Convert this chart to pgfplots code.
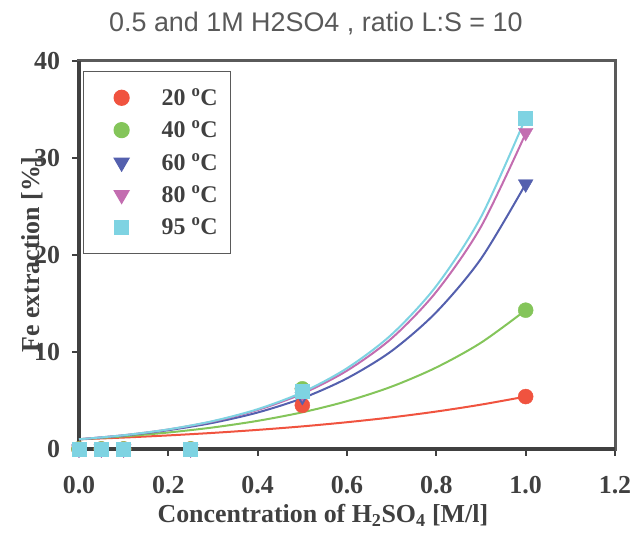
\documentclass[border=0pt]{standalone}
\usepackage{fontspec}
\setmainfont{Liberation Serif}
\setsansfont{Liberation Sans}
\usepackage{pgfplots}
\pgfplotsset{compat=1.18}
\definecolor{cA}{HTML}{F0533F}
\definecolor{cB}{HTML}{84C55A}
\definecolor{cC}{HTML}{5460AE}
\definecolor{cD}{HTML}{C36DB0}
\definecolor{cE}{HTML}{7ED3E2}
\definecolor{txtgray}{HTML}{404040}
\definecolor{titlegray}{HTML}{595959}
\definecolor{framegray}{HTML}{5A5A5A}
\pgfplotsset{
  myleg/.style={legend image code/.code={\path[draw=none,fill=none] (0bp,-8bp) rectangle (65bp,8bp); \draw[##1] plot coordinates {(27bp,0bp)};}},
}
\begin{document}
\begin{tikzpicture}
\begin{axis}[name=ax,
  scale only axis, width=536bp, height=388.3bp,
  xmin=0, xmax=1.2, ymin=0, ymax=40,
  xtick={0,0.2,0.4,0.6,0.8,1.0,1.2}, ytick={0,10,20,30,40},
  tick align=outside, tick pos=left, major tick length=6.5bp,
  /pgf/number format/assume math mode=true,
  ticklabel style={font=\fontsize{26}{26}\selectfont\bfseries, text=txtgray},
  xticklabel style={/pgf/number format/fixed, /pgf/number format/fixed zerofill, /pgf/number format/precision=1, yshift=-17bp},
  yticklabel style={xshift=-9bp},
  axis line style={draw=framegray, line width=3bp},
  tick style={draw=txtgray, line width=2bp},
  clip=false,
  title={0.5 and 1M H2SO4 , ratio L:S = 10},
  title style={at={(axis description cs:0.442,1)}, anchor=base, yshift=23bp, font=\sffamily\fontsize{27}{27}\selectfont, text=titlegray},
  xlabel={Concentration of H\textsubscript{2}SO\textsubscript{4} [M/l]},
  xlabel style={at={(axis description cs:0.455,-0.19)}, anchor=base, font=\fontsize{26}{26}\selectfont\bfseries, text=txtgray},
  ylabel={Fe extraction [\%]},
  ylabel style={at={(axis description cs:-0.073,0.5)}, anchor=base, rotate=0, font=\fontsize{26}{26}\selectfont\bfseries, text=txtgray},
  legend style={at={(axis description cs:0.0075,0.9735)}, anchor=north west, draw=framegray, line width=1.2bp,
    font=\fontsize{24}{24}\selectfont\bfseries, text=txtgray, inner xsep=11bp, inner ysep=15bp, row sep=10bp},
  legend cell align=left,
]
\draw[txtgray, line width=4bp] (rel axis cs:0,1) -- (rel axis cs:0,0) -- (rel axis cs:1,0);
% trendlines
\addplot[cA, line width=2bp, smooth, forget plot] coordinates {(0,1.0)(0.1,1.18)(0.2,1.40)(0.3,1.66)(0.4,1.97)(0.5,2.33)(0.6,2.76)(0.7,3.26)(0.8,3.86)(0.9,4.57)(1.0,5.4)};
\addplot[cB, line width=2bp, smooth, forget plot] coordinates {(0,1.0)(0.1,1.30)(0.2,1.70)(0.3,2.22)(0.4,2.90)(0.5,3.78)(0.6,4.93)(0.7,6.43)(0.8,8.40)(0.9,10.95)(1.0,14.3)};
\addplot[cC, line width=2bp, smooth, forget plot] coordinates {(0,1.0)(0.1,1.39)(0.2,1.94)(0.3,2.70)(0.4,3.76)(0.5,5.23)(0.6,7.28)(0.7,10.1)(0.8,14.1)(0.9,19.6)(1.0,27.3)};
\addplot[cD, line width=2bp, smooth, forget plot] coordinates {(0,1.0)(0.1,1.42)(0.2,2.01)(0.3,2.84)(0.4,4.02)(0.5,5.70)(0.6,8.07)(0.7,11.4)(0.8,16.2)(0.9,22.9)(1.0,32.5)};
\addplot[cE, line width=2bp, smooth, forget plot] coordinates {(0,1.0)(0.1,1.42)(0.2,2.02)(0.3,2.88)(0.4,4.10)(0.5,5.84)(0.6,8.32)(0.7,11.8)(0.8,16.8)(0.9,23.9)(1.0,34.1)};
% data
\addplot[only marks, mark=*, mark size=7.5bp, color=cA, myleg] coordinates {(0,0)(0.05,0)(0.1,0)(0.25,0)(0.5,4.5)(1.0,5.4)};
\addlegendentry{20 \textsuperscript{o}C}
\addplot[only marks, mark=*, mark size=7.5bp, color=cB, myleg] coordinates {(0,0)(0.05,0)(0.1,0)(0.25,0)(0.5,6.2)(1.0,14.3)};
\addlegendentry{40 \textsuperscript{o}C}
\addplot[only marks, mark=triangle*, mark size=8.5bp, mark options={rotate=180}, color=cC, myleg] coordinates {(0,0)(0.05,0)(0.1,0)(0.25,0)(0.5,5.4)(1.0,27.3)};
\addlegendentry{60 \textsuperscript{o}C}
\addplot[only marks, mark=triangle*, mark size=8.5bp, mark options={rotate=180}, color=cD, myleg] coordinates {(0,0)(0.05,0)(0.1,0)(0.25,0)(0.5,5.8)(1.0,32.6)};
\addlegendentry{80 \textsuperscript{o}C}
\addplot[only marks, mark=square*, mark size=7bp, color=cE, myleg] coordinates {(0,0)(0.05,0)(0.1,0)(0.25,0)(0.5,6.0)(1.0,34.1)};
\addlegendentry{95 \textsuperscript{o}C}
\end{axis}
\pgfresetboundingbox
\path[use as bounding box] ([xshift=-79bp,yshift=-84bp]ax.south west) rectangle ([xshift=17bp,yshift=60.7bp]ax.north east);
\end{tikzpicture}
\end{document}
